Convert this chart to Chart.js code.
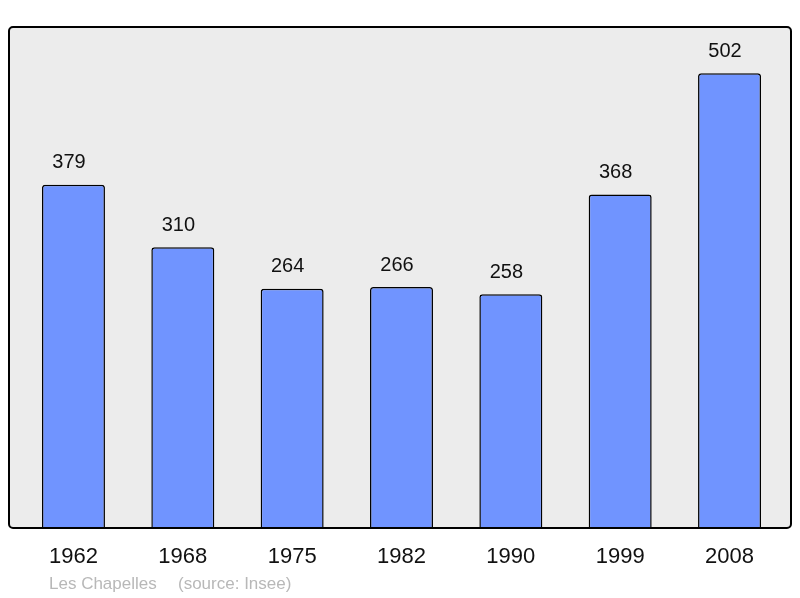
<!DOCTYPE html>
<html>
<head>
<meta charset="utf-8">
<script src="https://cdn.jsdelivr.net/npm/chart.js@4"></script>
<style>
  body { margin: 0; background: #fff; }
  canvas { display: block; }
</style>
</head>
<body>
<canvas id="popChart" width="800" height="598"></canvas>
<script>
// données de population
const years = ["1962", "1968", "1975", "1982", "1990", "1999", "2008"];
const population = [379, 310, 264, 266, 258, 368, 502];
const footerName = "Les Chapelles";
const footerSource = "(source: Insee)";

// fond gris avec cadre noir
const frame = {
  id: "frame",
  box(chart) {
    return { x: 9, y: 27, w: 782, h: 501, r: 4 };
  },
  beforeDatasetsDraw(chart) {
    const ctx = chart.ctx;
    const b = this.box(chart);
    ctx.save();
    ctx.beginPath();
    ctx.roundRect(b.x, b.y, b.w, b.h, b.r);
    ctx.fillStyle = "#ececec";
    ctx.fill();
    ctx.restore();
  },
  afterDatasetsDraw(chart) {
    const ctx = chart.ctx;
    const b = this.box(chart);
    ctx.save();
    ctx.beginPath();
    ctx.roundRect(b.x, b.y, b.w, b.h, b.r);
    ctx.lineWidth = 2;
    ctx.strokeStyle = "#000";
    ctx.stroke();

    // valeurs au-dessus des barres
    const meta = chart.getDatasetMeta(0);
    ctx.font = "20px 'Liberation Sans', Arial, sans-serif";
    ctx.fillStyle = "#111";
    ctx.textAlign = "center";
    ctx.textBaseline = "middle";
    meta.data.forEach((bar, i) => {
      ctx.fillText(String(population[i]), bar.x - 4.5, bar.y - 22);
    });

    // pied de page
    ctx.font = "17px 'Liberation Sans', Arial, sans-serif";
    ctx.fillStyle = "#b8b8b8";
    ctx.textAlign = "left";
    ctx.fillText(footerName, 49, 584);
    ctx.fillText(footerSource, 178, 584);
    ctx.restore();
  }
};

new Chart(document.getElementById("popChart"), {
  type: "bar",
  data: {
    labels: years,
    datasets: [
      {
        data: population,
        backgroundColor: "#7094ff",
        borderColor: "#000",
        borderWidth: 1.5,
        borderRadius: 3,
        borderSkipped: "bottom",
        barPercentage: 0.576,
        categoryPercentage: 1,
      },
    ],
  },
  options: {
    responsive: false,
    animation: false,
    layout: { padding: { left: 18.8, right: 15.8, top: 27, bottom: 0 } },
    plugins: {
      legend: { display: false },
      tooltip: { enabled: false },
    },
    scales: {
      y: { display: false, min: 0, max: 553 },
      x: {
        grid: { display: false, drawTicks: false },
        border: { display: false },
        ticks: {
          color: "#111",
          padding: 16,
          font: { family: "'Liberation Sans', Arial, sans-serif", size: 22 },
        },
        afterFit(scale) {
          scale.height = 70;
        },
      },
    },
  },
  plugins: [frame],
});
</script>
</body>
</html>
